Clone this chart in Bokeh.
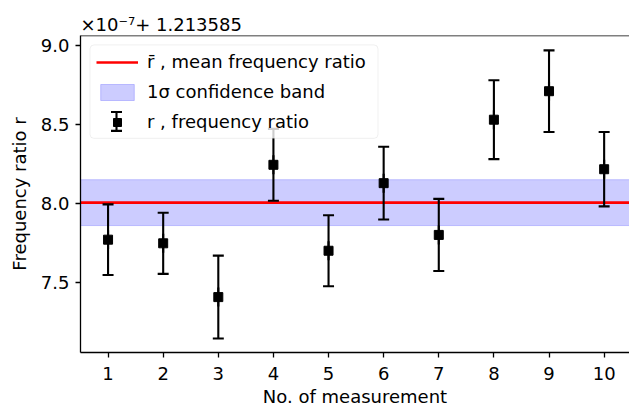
import math
from bokeh.plotting import figure
from bokeh.models import (ColumnDataSource, Range1d, FixedTicker, Legend, LegendItem,
                          Span, PrintfTickFormatter, Whisker, TeeHead, BoxAnnotation)
from bokeh.embed import file_html
from bokeh.resources import INLINE

# ---- data (ratio values are given as offset * 1e-7 + 1.213585) ----
measurement = [1, 2, 3, 4, 5, 6, 7, 8, 9, 10]
ratio_offset = [7.773, 7.750, 7.410, 8.246, 7.703, 8.130, 7.803, 8.531, 8.711, 8.218]
ratio_err = [0.223, 0.193, 0.262, 0.227, 0.224, 0.230, 0.228, 0.249, 0.258, 0.235]
mean_offset = 8.007
sigma = 0.145
y_ticks = [7.5, 8.0, 8.5, 9.0]
x_ticks = measurement
offset_text = "×10⁻⁷+ 1.213585"

FONT = "DejaVu Sans"
FS = "18px"
X0, X1 = 0.5, 10.46
Y0, Y1 = 7.060, 9.063
W, H = 629, 409
BL, BT, BB = 80, 35, 55

lo = [v - e for v, e in zip(ratio_offset, ratio_err)]
hi = [v + e for v, e in zip(ratio_offset, ratio_err)]
src = ColumnDataSource(dict(x=measurement, y=ratio_offset, lo=lo, hi=hi))

p = figure(width=W, height=H, output_backend="svg", toolbar_location=None,
           x_range=Range1d(X0, X1), y_range=Range1d(Y0, Y1),
           min_border_left=BL, min_border_right=0, min_border_top=BT, min_border_bottom=BB)
p.outline_line_color = None
p.xgrid.visible = False
p.ygrid.visible = False

# offset text (matplotlib-like) as title
p.title.text = offset_text
p.title.align = "left"
p.title.text_font = FONT
p.title.text_font_size = FS
p.title.text_font_style = "normal"
p.title.text_color = "black"
p.title.standoff = 2
p.title.offset = 0

# band and mean line spanning the whole axis width
span_x = [X0 - 1, X1 + 1]
band = p.quad(left=span_x[0], right=span_x[1], bottom=mean_offset - sigma, top=mean_offset + sigma,
              fill_color="blue", fill_alpha=0.2, line_color="blue", line_alpha=0.2, line_width=1)
mean_line = p.line(x=span_x, y=[mean_offset, mean_offset], line_color="red", line_width=2.7)

# top spine
p.add_layout(Span(location=Y1, dimension="width", line_color="black", line_width=1.3))

# error bars
p.segment(x0="x", y0="lo", x1="x", y1="hi", source=src, line_color="black", line_width=2.1)
p.scatter(x="x", y="lo", source=src, marker="dash", size=11, line_color="black", line_width=2.1)
p.scatter(x="x", y="hi", source=src, marker="dash", size=11, line_color="black", line_width=2.1)
stem = p.scatter(x="x", y="y", source=src, marker="dash", angle=math.pi / 2, size=19,
                 line_color="black", line_width=2.1)
sq = p.scatter(x="x", y="y", source=src, marker="square", size=9, fill_color="black",
               line_color="black")

# legend frame + error-bar key (pixel positions converted to data units)
fw, fh = W - BL, H - BT - BB
def px_to_data(sx, sy):
    return X0 + (sx - BL) * (X1 - X0) / fw, Y1 - (sy - BT) * (Y1 - Y0) / fh
bx0, by0 = px_to_data(89.5, 44.5)
bx1, by1 = px_to_data(377.5, 138.5)
p.add_layout(BoxAnnotation(left=bx0, right=bx1, top=by0, bottom=by1, fill_color="white",
                           fill_alpha=0.8, line_color="#cccccc", line_width=1, border_radius=4,
                           level="glyph"))
kx, ky_top = px_to_data(116, 112)
_, ky_bot = px_to_data(116, 131)
key_src = ColumnDataSource(dict(x=[kx], lo=[ky_bot], hi=[ky_top]))
p.add_layout(Whisker(base="x", lower="lo", upper="hi", source=key_src, dimension="height",
                     line_color="black", line_width=2.1, level="glyph",
                     upper_head=TeeHead(size=11, line_color="black", line_width=2.1),
                     lower_head=TeeHead(size=11, line_color="black", line_width=2.1)))

legend = Legend(items=[
    LegendItem(label="r\u0304 , mean frequency ratio", renderers=[mean_line]),
    LegendItem(label="1σ confidence band", renderers=[band]),
    LegendItem(label="r , frequency ratio", renderers=[stem, sq]),
], location="top_left")
legend.margin = 9
legend.padding = 7
legend.spacing = 9
legend.glyph_width = 42
legend.glyph_height = 20
legend.label_height = 20
legend.label_standoff = 9
legend.label_text_font = FONT
legend.label_text_font_size = FS
legend.label_text_color = "black"
legend.border_line_color = "#cccccc"
legend.border_line_alpha = 0
legend.background_fill_alpha = 0
p.add_layout(legend)

# axes
for ax in (p.xaxis[0], p.yaxis[0]):
    ax.axis_line_color = "black"
    ax.axis_line_width = 1.3
    ax.major_tick_line_color = "black"
    ax.major_tick_line_width = 1.3
    ax.major_tick_out = 5
    ax.major_tick_in = 0
    ax.minor_tick_line_color = None
    ax.major_label_text_font = FONT
    ax.major_label_text_font_size = FS
    ax.major_label_text_color = "black"
    ax.axis_label_text_font = FONT
    ax.axis_label_text_font_size = FS
    ax.axis_label_text_font_style = "normal"
    ax.axis_label_text_color = "black"

p.xaxis.ticker = FixedTicker(ticks=x_ticks)
p.yaxis.ticker = FixedTicker(ticks=y_ticks)
p.yaxis.formatter = PrintfTickFormatter(format="%.1f")
p.xaxis.axis_label = "No. of measurement"
p.yaxis.axis_label = "Frequency ratio r"
p.xaxis.major_label_standoff = 9
p.xaxis.axis_label_standoff = 3
p.yaxis.major_label_standoff = 6
p.yaxis.axis_label_standoff = 8

open("out.html", "w").write(file_html(p, INLINE))
